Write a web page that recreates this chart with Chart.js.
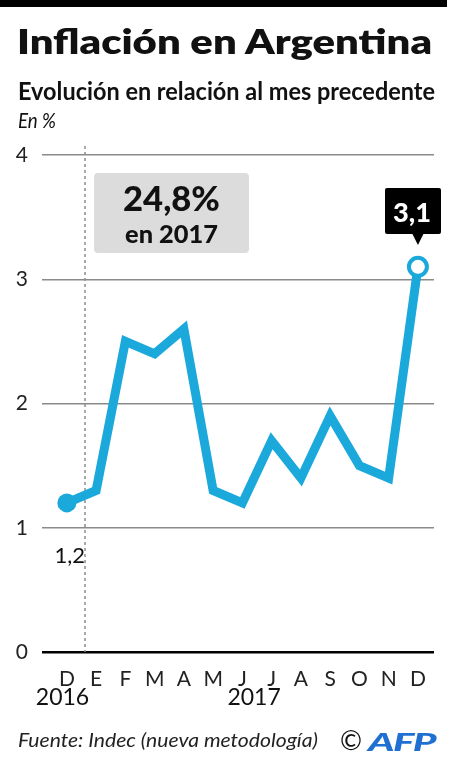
<!DOCTYPE html>
<html>
<head>
<meta charset="utf-8">
<script src="https://cdn.jsdelivr.net/npm/chart.js@4.4.1/dist/chart.umd.min.js"></script>
<style>
  body { margin: 0; background: #fff; width: 457px; height: 768px; overflow: hidden; position: relative; font-family: Lato, "Open Sans", sans-serif; color: #111; }
  #topbar { position: absolute; left: 0; top: 0; width: 447px; height: 7px; background: #000; }
  .txt { position: absolute; left: 18px; white-space: nowrap; transform-origin: 0 0; }
  #title { font-weight: 800; }
  #subtitle { font-weight: 700; }
  #unit { font-style: italic; }
  #source { font-style: italic; color: #222; }
  #copy { color: #111; }
  #afp { font-weight: 900; font-style: italic; color: #1f70d2; letter-spacing: -1px; }
  #chart { position: absolute; left: 0; top: 0; }
</style>
</head>
<body>
<div id="topbar"></div>
<canvas id="chart" width="457" height="768"></canvas>
<div class="txt" id="title">Inflación en Argentina</div>
<div class="txt" id="subtitle">Evolución en relación al mes precedente</div>
<div class="txt" id="unit">En %</div>
<div class="txt" id="source">Fuente: Indec (nueva metodología)</div>
<div class="txt" id="copy">©</div>
<div class="txt" id="afp">AFP</div>
<script>
// monthly inflation, Dec 2016 - Dec 2017
const months = ['D', 'E', 'F', 'M', 'A', 'M', 'J', 'J', 'A', 'S', 'O', 'N', 'D'];
const inflation = [1.2, 1.3, 2.5, 2.4, 2.6, 1.3, 1.2, 1.7, 1.4, 1.9, 1.5, 1.4, 3.1];
const yTicks = [0, 1, 2, 3, 4];
const years = ['2016', '2017'];
const yearTotal = ['24,8%', 'en 2017'];

const BLUE = '#1ba9dc';

// size a text from its cap height, then squeeze it to the picture's width
function place(id, left, width, baseline, cap) {
    var el = document.getElementById(id);
    var size = cap / 0.7165;
    el.style.fontSize = size + 'px';
    el.style.lineHeight = size + 'px';
    el.style.left = left + 'px';
    el.style.top = (baseline - 0.887 * size) + 'px';
    var w = el.getBoundingClientRect().width;
    el.style.transform = 'scaleX(' + (width / w) + ')';
}
place('title', 17, 415, 55, 25);
place('subtitle', 18, 417, 100, 17.3);
place('unit', 18, 38, 128.5, 15);
place('source', 18, 300, 747.5, 13.3);
place('copy', 340, 22, 751, 19);
place('afp', 368, 67, 751, 18);

function comma(v) {
    return v.toString().replace('.', ',');
}

// fit a canvas font to a given width
function fitFont(ctx, text, weight, width) {
    ctx.font = weight + ' 20px Lato';
    var s = 20 * width / ctx.measureText(text).width;
    return weight + ' ' + s + 'px Lato';
}

const annotations = {
    id: 'annotations',
    beforeDatasetsDraw(chart) {
        const ctx = chart.ctx;
        const x = chart.scales.x, y = chart.scales.y;
        ctx.save();
        // dotted line between 2016 and 2017
        ctx.strokeStyle = '#8c8c8c';
        ctx.lineWidth = 1.5;
        ctx.setLineDash([3, 3]);
        ctx.beginPath();
        ctx.moveTo(x.getPixelForValue(0.62), 146);
        ctx.lineTo(x.getPixelForValue(0.62), y.getPixelForValue(0));
        ctx.stroke();
        ctx.setLineDash([]);

        // grey box with annual total
        ctx.fillStyle = '#dcdcdc';
        ctx.beginPath();
        ctx.roundRect(94, 173, 155, 80, 4);
        ctx.fill();
        ctx.fillStyle = '#111';
        ctx.textAlign = 'center';
        ctx.textBaseline = 'alphabetic';
        ctx.font = fitFont(ctx, yearTotal[0], '900', 97);
        ctx.fillText(yearTotal[0], 171.5, 211);
        ctx.font = fitFont(ctx, yearTotal[1], '900', 93);
        ctx.fillText(yearTotal[1], 171.5, 243);
        ctx.restore();
    },
    afterDraw(chart) {
        const ctx = chart.ctx;
        const x = chart.scales.x, y = chart.scales.y;
        const last = inflation.length - 1;
        ctx.save();
        ctx.textAlign = 'center';
        ctx.textBaseline = 'alphabetic';

        // first value under the first point
        ctx.fillStyle = '#111';
        ctx.font = '22px Lato';
        ctx.fillText(comma(inflation[0]), x.getPixelForValue(0) + 3, 563);

        // year labels
        ctx.font = '23px Lato';
        ctx.fillText(years[0], 62.5, 705);
        ctx.fillText(years[1], x.getPixelForValue(6.4), 705);

        // black callout for last value
        const px = x.getPixelForValue(last);
        ctx.fillStyle = '#000';
        ctx.beginPath();
        ctx.roundRect(385, 188, 56, 46, 2);
        ctx.fill();
        ctx.beginPath();
        ctx.moveTo(px - 6, 233);
        ctx.lineTo(px, 245);
        ctx.lineTo(px + 6, 233);
        ctx.closePath();
        ctx.fill();
        ctx.fillStyle = '#fff';
        ctx.font = fitFont(ctx, comma(inflation[last]), '900', 38);
        ctx.fillText(comma(inflation[last]), 412, 222);
        ctx.restore();
    }
};

Chart.defaults.font.family = 'Lato';

new Chart(document.getElementById('chart'), {
    type: 'line',
    data: {
        datasets: [{
            data: inflation.map((v, i) => ({ x: i, y: v })),
            borderColor: BLUE,
            borderWidth: 9,
            borderJoinStyle: 'miter',
            tension: 0,
            clip: false,
            pointRadius: inflation.map((v, i) => i === 0 ? 9.5 : (i === inflation.length - 1 ? 9 : 0)),
            pointBorderWidth: inflation.map((v, i) => i === inflation.length - 1 ? 4 : 0),
            pointBackgroundColor: inflation.map((v, i) => i === inflation.length - 1 ? '#fff' : BLUE),
            pointBorderColor: BLUE
        }]
    },
    options: {
        responsive: false,
        animation: false,
        layout: { padding: { top: 155, right: 23, left: 0, bottom: 0 } },
        plugins: { legend: { display: false }, tooltip: { enabled: false } },
        scales: {
            x: {
                type: 'linear',
                min: -0.85,
                max: 12.55,
                afterBuildTicks: function(scale) {
                    scale.ticks = months.map((m, i) => ({ value: i }));
                },
                afterFit: function(scale) { scale.height = 116; },
                grid: { display: false },
                border: { display: false },
                ticks: {
                    autoSkip: false,
                    maxRotation: 0,
                    padding: 7,
                    color: '#222',
                    font: { size: 21 },
                    callback: (v) => months[v]
                }
            },
            y: {
                min: 0,
                max: 4,
                afterBuildTicks: function(scale) {
                    scale.ticks = yTicks.map(v => ({ value: v }));
                },
                afterFit: function(scale) { scale.width = 42; },
                border: { display: false },
                grid: {
                    drawTicks: false,
                    color: (c) => c.tick.value === 0 ? '#000' : '#8a8a8a',
                    lineWidth: (c) => c.tick.value === 0 ? 2.5 : 1.5
                },
                ticks: {
                    padding: 14,
                    color: '#222',
                    font: { size: 21 },
                    callback: (v) => v
                }
            }
        }
    },
    plugins: [annotations]
});
</script>
</body>
</html>
